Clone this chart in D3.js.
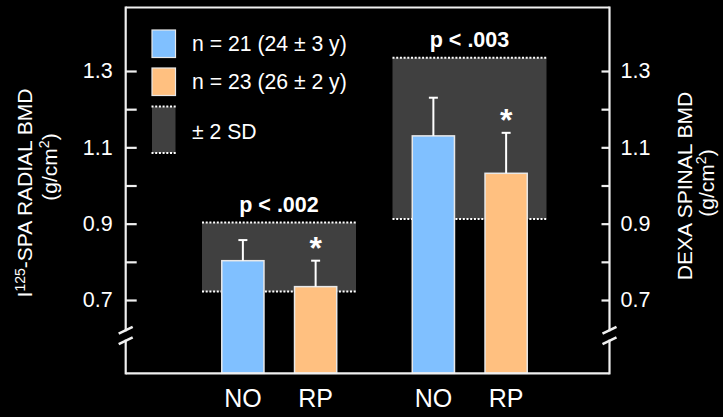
<!DOCTYPE html>
<html>
<head>
<meta charset="utf-8">
<script src="https://cdn.jsdelivr.net/npm/d3@7"></script>
<style>
  html, body { margin: 0; padding: 0; background: #000; }
  svg { display: block; font-family: "Liberation Sans", Arial, Helvetica, sans-serif; }
</style>
</head>
<body>
<svg id="chart" width="723" height="417"></svg>
<script>
// Bone mineral density by group: two measurement sites, each with NO and RP subjects
const sites = ["SPA", "DEXA"];
const groupLabels = ["NO", "RP"];
const spaMeans = [0.803, 0.735];
const spaErrors = [0.054, 0.068];
const dexaMeans = [1.130, 1.032];
const dexaErrors = [0.100, 0.106];
const refLow = [0.722, 0.912];   // reference range (± 2 SD) per site
const refHigh = [0.903, 1.335];
const pLabels = ["p < .002", "p < .003"];
const significant = [false, true]; // asterisk per group (NO, RP)
const yTicks = [0.7, 0.8, 0.9, 1.0, 1.1, 1.2, 1.3];
const yTickLabels = [0.7, 0.9, 1.1, 1.3];
const legendLabels = ["n = 21 (24 \u00b1 3 y)", "n = 23 (26 \u00b1 2 y)", "\u00b1 2 SD"];

const colors = { NO: "#80c0ff", RP: "#ffc080" };
const bandFill = "#404040";
const ink = "#ffffff";
const frameInk = "#f0f0f0";

const svg = d3.select("#chart");
const frame = { left: 125.7, right: 609.5, top: 7.5, bottom: 373.3 };
const breakY = 335.5;

const y = d3.scaleLinear().domain([0.7, 1.3]).range([300, 71]);
const xSite = d3.scaleBand().domain(sites).range([184, 565]);
const xGroup = d3.scaleBand().domain(groupLabels).range([22.5, 168]);
const barW = xGroup.bandwidth() * 0.58;

const means = [spaMeans, dexaMeans];
const errors = [spaErrors, dexaErrors];

const bars = [];
sites.forEach((s, i) => {
  groupLabels.forEach((g, j) => {
    bars.push({
      site: s, group: g, mean: means[i][j], err: errors[i][j],
      star: significant[j],
      cx: xSite(s) + xGroup(g) + xGroup.bandwidth() / 2
    });
  });
});

// reference bands (± 2 SD)
const bandX0 = 18, bandX1 = 172;
const bands = sites.map((s, i) => ({ site: s, lo: refLow[i], hi: refHigh[i], p: pLabels[i] }));

svg.append("g").selectAll("rect").data(bands).join("rect")
  .attr("x", d => xSite(d.site) + bandX0)
  .attr("width", bandX1 - bandX0)
  .attr("y", d => y(d.hi))
  .attr("height", d => y(d.lo) - y(d.hi))
  .attr("fill", bandFill);

const dotted = svg.append("g")
  .attr("stroke", ink).attr("stroke-width", 2).attr("stroke-dasharray", "2,1.7");
bands.forEach(d => {
  [d.lo, d.hi].forEach(v => {
    dotted.append("line")
      .attr("x1", xSite(d.site) + bandX0).attr("x2", xSite(d.site) + bandX1)
      .attr("y1", y(v)).attr("y2", y(v));
  });
});

svg.append("g").selectAll("text").data(bands).join("text")
  .attr("x", d => xSite(d.site) + (bandX0 + bandX1) / 2)
  .attr("y", d => y(d.hi) - 10.5)
  .attr("text-anchor", "middle")
  .attr("font-size", 21.5).attr("font-weight", "bold")
  .attr("fill", ink)
  .text(d => d.p);

// bars
svg.append("g").selectAll("rect").data(bars).join("rect")
  .attr("x", d => d.cx - barW / 2)
  .attr("width", barW)
  .attr("y", d => y(d.mean))
  .attr("height", d => frame.bottom - y(d.mean))
  .attr("fill", d => colors[d.group])
  .attr("stroke", "#e8e8e8").attr("stroke-width", 1.5);

// error bars (upper whisker only)
const eb = svg.append("g").attr("stroke", ink).attr("stroke-width", 2);
bars.forEach(d => {
  eb.append("line").attr("x1", d.cx).attr("x2", d.cx)
    .attr("y1", y(d.mean)).attr("y2", y(d.mean + d.err));
  eb.append("line").attr("x1", d.cx - 4.5).attr("x2", d.cx + 4.5)
    .attr("y1", y(d.mean + d.err)).attr("y2", y(d.mean + d.err));
});

// significance asterisks
svg.append("g").selectAll("text").data(bars.filter(d => d.star)).join("text")
  .attr("x", d => d.cx)
  .attr("y", d => y(d.mean + d.err) - 20 + 0.57 * 32)
  .attr("text-anchor", "middle")
  .attr("font-size", 32).attr("font-weight", "bold")
  .attr("fill", ink)
  .text("*");

// category labels
svg.append("g").selectAll("text").data(bars).join("text")
  .attr("x", d => d.cx)
  .attr("y", 407)
  .attr("text-anchor", "middle")
  .attr("font-size", 25)
  .attr("fill", ink)
  .text(d => d.group);

// axes
const fmt = d => yTickLabels.some(v => Math.abs(v - d) < 1e-9) ? d3.format(".1f")(d) : "";
const leftAxis = svg.append("g").attr("transform", `translate(${frame.left},0)`)
  .call(d3.axisLeft(y).tickValues(yTicks).tickSize(-11).tickPadding(13).tickFormat(fmt));
const rightAxis = svg.append("g").attr("transform", `translate(${frame.right},0)`)
  .call(d3.axisRight(y).tickValues(yTicks).tickSize(-8).tickPadding(11).tickFormat(fmt));
[leftAxis, rightAxis].forEach(a => {
  a.select(".domain").remove();
  a.selectAll(".tick line").attr("stroke", frameInk).attr("stroke-width", 2.2);
  a.selectAll(".tick text").attr("fill", ink).attr("font-size", 21.5)
    .attr("font-family", "'Liberation Sans', Arial, sans-serif");
});

// frame with axis breaks on both sides
const gap = 5.2;
const fr = svg.append("g").attr("stroke", frameInk).attr("stroke-width", 2.2).attr("fill", "none");
const seg = (x1, y1, x2, y2) => fr.append("line").attr("x1", x1).attr("y1", y1).attr("x2", x2).attr("y2", y2);
seg(frame.left, frame.top, frame.right, frame.top);
seg(frame.left, frame.bottom, frame.right, frame.bottom);
[frame.left, frame.right].forEach(x => {
  seg(x, frame.top - 1.1, x, breakY - gap + 1);
  seg(x, breakY + gap - 1, x, frame.bottom + 1.1);
  [-gap, gap].forEach(o => {
    seg(x - 7, breakY + o + 3.4, x + 7, breakY + o - 3.4).attr("stroke-width", 2.6);
  });
});

// axis titles
const leftTitle = svg.append("text")
  .attr("transform", "translate(31.5,193) rotate(-90)")
  .attr("text-anchor", "middle").attr("font-size", 21).attr("fill", ink);
leftTitle.append("tspan").text("I");
leftTitle.append("tspan").attr("font-size", 14).attr("dy", -7).text("125");
leftTitle.append("tspan").attr("dy", 7).text("-SPA RADIAL BMD");

const unitTitle = (x, cy) => {
  const t = svg.append("text")
    .attr("transform", `translate(${x},${cy}) rotate(-90)`)
    .attr("text-anchor", "middle").attr("font-size", 21).attr("fill", ink);
  t.append("tspan").text("(g/cm");
  t.append("tspan").attr("font-size", 14).attr("dy", -8).text("2");
  t.append("tspan").attr("dy", 8).text(")");
};
unitTitle(57, 167);

svg.append("text")
  .attr("transform", "translate(692,186) rotate(-90)")
  .attr("text-anchor", "middle").attr("font-size", 21).attr("fill", ink)
  .text("DEXA SPINAL BMD");
unitTitle(713.5, 183);

// legend
const legend = svg.append("g");
const sw = { x: 152, w: 23.5 };
legend.append("rect").attr("x", sw.x).attr("y", 30).attr("width", sw.w).attr("height", 27.5)
  .attr("fill", colors.NO).attr("stroke", "#e8e8e8").attr("stroke-width", 1.2);
legend.append("rect").attr("x", sw.x).attr("y", 68).attr("width", sw.w).attr("height", 27.5)
  .attr("fill", colors.RP).attr("stroke", "#e8e8e8").attr("stroke-width", 1.2);
legend.append("rect").attr("x", sw.x).attr("y", 106.5).attr("width", sw.w).attr("height", 46.5)
  .attr("fill", bandFill);
[106.5, 153].forEach(yy => legend.append("line")
  .attr("x1", sw.x - 0.5).attr("x2", sw.x + sw.w + 1).attr("y1", yy).attr("y2", yy)
  .attr("stroke", ink).attr("stroke-width", 2).attr("stroke-dasharray", "2,1.7"));
[51, 89.2, 139.3].forEach((yy, i) => legend.append("text")
  .attr("x", 192).attr("y", yy).attr("font-size", 21.2).attr("fill", ink)
  .text(legendLabels[i]));
</script>
</body>
</html>
